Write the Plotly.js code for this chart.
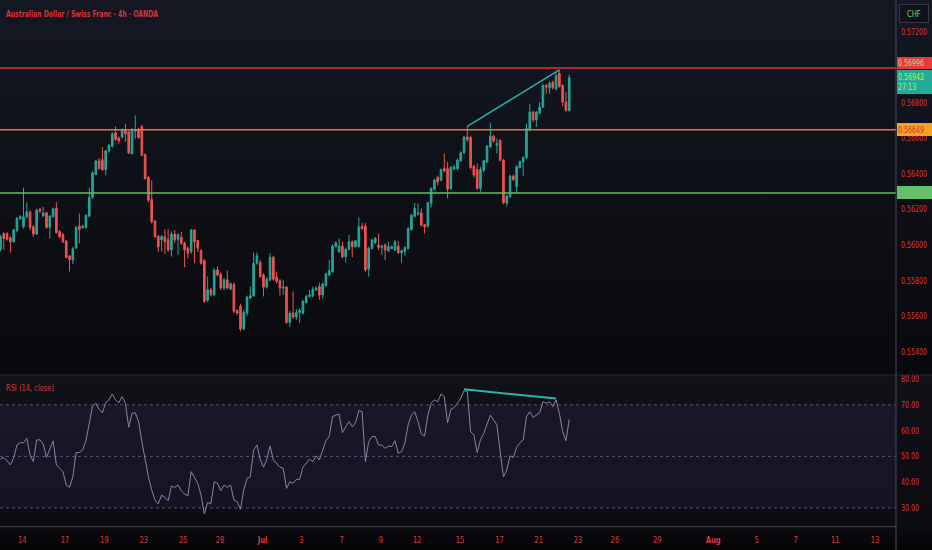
<!DOCTYPE html>
<html><head><meta charset="utf-8">
<script src="https://cdn.plot.ly/plotly-3.0.1.min.js"></script>
<style>
html,body{margin:0;padding:0;background:#050506;}
#chart{width:932px;height:550px;background:linear-gradient(to bottom,#141823 0px,#0f1118 180px,#08090c 375px,#111118 376px,#0b0b10 527px,#050506 550px);}
</style></head><body><div id="chart"></div>
<script>
// ---- data (AUD/CHF 4h) ----
const open = [0.55975,0.56065,0.56065,0.56040,0.56018,0.56080,0.56149,0.56103,0.56159,0.56185,
0.56103,0.56062,0.56200,0.56163,0.56181,0.56099,0.56159,0.56206,0.56075,0.56061,
0.56022,0.55938,0.55916,0.55983,0.56106,0.56099,0.56099,0.56163,0.56267,0.56398,
0.56473,0.56480,0.56424,0.56529,0.56555,0.56630,0.56602,0.56607,0.56649,0.56636,
0.56514,0.56640,0.56649,0.56667,0.56509,0.56380,0.56256,0.56135,0.56050,0.56029,
0.56047,0.56029,0.55972,0.56062,0.56032,0.56043,0.56010,0.55982,0.55963,0.56085,
0.56025,0.55969,0.55912,0.55689,0.55748,0.55720,0.55860,0.55836,0.55758,0.55804,
0.55753,0.55777,0.55631,0.55655,0.55528,0.55617,0.55702,0.55715,0.55898,0.55902,
0.55832,0.55763,0.55804,0.55931,0.55819,0.55800,0.55758,0.55763,0.55565,0.55617,
0.55595,0.55621,0.55617,0.55677,0.55711,0.55714,0.55747,0.55766,0.55719,0.55772,
0.55832,0.55850,0.55991,0.55962,0.55994,0.55934,0.55975,0.56019,0.55991,0.55991,
0.56106,0.56106,0.55864,0.55981,0.56013,0.56000,0.55987,0.56000,0.55968,0.55981,
0.55972,0.55994,0.55957,0.55962,0.55981,0.56088,0.56162,0.56174,0.56181,0.56114,
0.56106,0.56234,0.56314,0.56380,0.56365,0.56430,0.56430,0.56318,0.56428,0.56430,
0.56474,0.56519,0.56608,0.56604,0.56444,0.56425,0.56319,0.56421,0.56468,0.56552,
0.56612,0.56561,0.56589,0.56477,0.56235,0.56272,0.56388,0.56328,0.56436,0.56468,
0.56492,0.56649,0.56748,0.56705,0.56742,0.56776,0.56897,0.56884,0.56916,0.56879,
0.56966,0.56897,0.56804,0.56757];
const high = [0.56057,0.56072,0.56072,0.56050,0.56093,0.56159,0.56168,0.56323,0.56238,0.56196,
0.56112,0.56204,0.56210,0.56215,0.56187,0.56168,0.56211,0.56241,0.56084,0.56065,
0.56028,0.55944,0.55990,0.56106,0.56177,0.56115,0.56174,0.56323,0.56415,0.56480,
0.56490,0.56551,0.56535,0.56568,0.56635,0.56667,0.56610,0.56656,0.56682,0.56645,
0.56660,0.56729,0.56660,0.56675,0.56514,0.56388,0.56364,0.56140,0.56056,0.56057,
0.56089,0.56090,0.56075,0.56085,0.56066,0.56075,0.56020,0.55991,0.56090,0.56090,
0.56030,0.55975,0.55920,0.55823,0.55760,0.55870,0.55879,0.55845,0.55815,0.55856,
0.55790,0.55790,0.55640,0.55670,0.55636,0.55715,0.55767,0.55958,0.55958,0.55915,
0.55840,0.55820,0.55954,0.55940,0.55851,0.55810,0.55804,0.55770,0.55630,0.55739,
0.55640,0.55645,0.55692,0.55720,0.55748,0.55766,0.55770,0.55789,0.55790,0.55845,
0.55916,0.56005,0.56020,0.56037,0.56019,0.55985,0.56056,0.56025,0.56030,0.56155,
0.56125,0.56125,0.55990,0.56035,0.56045,0.56065,0.56000,0.56010,0.56019,0.55998,
0.56028,0.56024,0.55975,0.55994,0.56100,0.56175,0.56237,0.56234,0.56206,0.56120,
0.56245,0.56325,0.56373,0.56390,0.56430,0.56514,0.56467,0.56445,0.56450,0.56486,
0.56527,0.56615,0.56668,0.56615,0.56450,0.56459,0.56440,0.56480,0.56562,0.56688,
0.56620,0.56599,0.56595,0.56485,0.56285,0.56395,0.56395,0.56448,0.56475,0.56500,
0.56683,0.56795,0.56755,0.56755,0.56804,0.56907,0.56905,0.56918,0.56925,0.56972,
0.56985,0.56905,0.56860,0.56959];
const low = [0.55965,0.55972,0.56025,0.55957,0.56012,0.56074,0.56140,0.56093,0.56149,0.56084,
0.56046,0.56056,0.56180,0.56159,0.56092,0.56037,0.56155,0.56065,0.56039,0.56012,
0.55925,0.55851,0.55893,0.55979,0.56009,0.56090,0.56093,0.56155,0.56260,0.56392,
0.56425,0.56418,0.56392,0.56520,0.56548,0.56586,0.56570,0.56600,0.56580,0.56512,
0.56508,0.56598,0.56598,0.56500,0.56368,0.56240,0.56121,0.56040,0.55960,0.55963,
0.55950,0.55960,0.55935,0.56010,0.55944,0.56000,0.55875,0.55925,0.55950,0.55898,
0.55960,0.55890,0.55675,0.55680,0.55710,0.55711,0.55823,0.55748,0.55745,0.55750,
0.55745,0.55617,0.55605,0.55515,0.55520,0.55600,0.55695,0.55710,0.55890,0.55815,
0.55711,0.55755,0.55795,0.55800,0.55786,0.55715,0.55720,0.55555,0.55540,0.55585,
0.55580,0.55561,0.55610,0.55670,0.55705,0.55705,0.55740,0.55691,0.55700,0.55766,
0.55825,0.55845,0.55985,0.55955,0.55925,0.55901,0.55970,0.55931,0.55985,0.55985,
0.56085,0.55850,0.55822,0.55975,0.56005,0.55972,0.55944,0.55916,0.55960,0.55975,
0.55965,0.55950,0.55901,0.55940,0.55975,0.56080,0.56155,0.56165,0.56105,0.56065,
0.56097,0.56211,0.56308,0.56336,0.56358,0.56408,0.56262,0.56310,0.56420,0.56420,
0.56468,0.56510,0.56580,0.56425,0.56380,0.56310,0.56300,0.56410,0.56460,0.56545,
0.56575,0.56515,0.56470,0.56230,0.56216,0.56265,0.56360,0.56291,0.56430,0.56388,
0.56485,0.56640,0.56692,0.56664,0.56735,0.56770,0.56851,0.56851,0.56875,0.56870,
0.56885,0.56780,0.56750,0.56750];
const close = [0.56046,0.56037,0.56033,0.56018,0.56084,0.56149,0.56159,0.56159,0.56187,0.56099,
0.56062,0.56196,0.56190,0.56181,0.56099,0.56163,0.56204,0.56069,0.56046,0.56018,
0.55930,0.55919,0.55979,0.56099,0.56088,0.56106,0.56166,0.56267,0.56406,0.56473,
0.56430,0.56424,0.56529,0.56561,0.56626,0.56593,0.56585,0.56649,0.56626,0.56518,
0.56649,0.56645,0.56604,0.56505,0.56374,0.56252,0.56131,0.56046,0.55990,0.56047,
0.56019,0.55972,0.56062,0.56029,0.56057,0.56010,0.55972,0.55954,0.56085,0.56019,
0.55982,0.55898,0.55683,0.55748,0.55720,0.55860,0.55832,0.55758,0.55804,0.55758,
0.55782,0.55627,0.55617,0.55528,0.55621,0.55707,0.55715,0.55898,0.55939,0.55823,
0.55763,0.55808,0.55931,0.55808,0.55795,0.55758,0.55763,0.55565,0.55617,0.55595,
0.55621,0.55632,0.55683,0.55711,0.55720,0.55751,0.55757,0.55719,0.55781,0.55837,
0.55856,0.55994,0.56013,0.55994,0.55934,0.55975,0.56019,0.55991,0.56024,0.56103,
0.56093,0.55860,0.55981,0.56028,0.56037,0.55987,0.55994,0.55972,0.55991,0.55991,
0.56017,0.55957,0.55968,0.55985,0.56093,0.56168,0.56206,0.56181,0.56112,0.56103,
0.56237,0.56318,0.56365,0.56355,0.56424,0.56417,0.56314,0.56436,0.56439,0.56477,
0.56519,0.56608,0.56593,0.56436,0.56393,0.56319,0.56425,0.56474,0.56556,0.56612,
0.56585,0.56571,0.56477,0.56238,0.56276,0.56388,0.56369,0.56440,0.56468,0.56492,
0.56655,0.56748,0.56705,0.56748,0.56776,0.56897,0.56888,0.56910,0.56884,0.56953,
0.56892,0.56804,0.56757,0.56942];
const rsi = [48.9,49.6,48.3,46.7,49.3,54.4,55.3,55.3,57.0,50.5,
48.0,56.4,56.4,54.8,49.6,53.1,56.0,46.7,45.4,44.1,
38.9,38.0,42.1,51.5,51.5,52.5,56.1,63.5,69.5,70.6,
68.2,66.9,70.8,71.9,74.2,71.9,70.8,73.2,70.6,61.3,
66.7,66.9,63.5,55.7,48.9,42.1,37.0,33.1,31.6,35.0,
34.1,32.8,38.5,38.0,38.9,36.7,35.4,34.7,44.1,42.1,
39.6,35.0,27.7,32.1,31.6,40.2,39.6,36.7,38.9,38.0,
38.9,33.1,32.5,29.5,37.0,41.5,42.1,52.5,54.4,48.9,
45.8,48.9,54.0,48.6,47.1,45.8,45.4,37.6,40.2,39.6,
41.1,41.1,45.8,47.3,48.9,48.0,50.2,48.6,52.5,56.1,
57.7,65.4,66.0,66.4,59.2,61.5,63.5,61.5,63.1,67.7,
67.3,48.0,55.7,57.7,57.7,54.4,54.4,53.1,54.0,53.8,
56.1,51.2,51.8,55.1,62.2,66.0,67.3,63.5,58.7,57.9,
66.0,70.6,71.9,71.2,74.2,73.2,63.1,68.2,69.0,70.6,
72.5,75.5,75.1,59.6,58.3,51.5,56.4,58.9,62.8,66.0,
64.1,62.2,51.8,42.1,44.7,50.2,49.6,53.5,55.3,56.4,
65.4,67.3,65.1,66.0,66.9,71.2,70.6,71.2,69.3,71.9,
66.7,59.6,56.1,64.4];

// time axis: bar position of each date label
const tickIdx = [6.6,19.6,31.6,43.6,55.6,66.8,79.7,91.5,103.8,115.7,126.8,139.8,151.8,163.7,175.7,186.9,199.8,216.8,230.0,241.9,253.9,266.0];
const tickLabels = ['14','17','19','23','25','28','<b>Jul</b>','3','7','9','12','15','17','21','23','26','29','<b>Aug</b>','5','7','11','13'];
const priceTicks = [0.554,0.556,0.558,0.560,0.562,0.564,0.566,0.568,0.572];
const rsiTicks = [30,40,50,60,70,80];
const rsiLevels = [70,50,30];
const levels = [0.56996, 0.56649, 0.56293];      // red, orange, green horizontal lines
const priceTrendBars = [142, 170];               // price trendline joins these highs
const rsiTrendBars = [141, 169];                 // RSI trendline joins these values
const countdown = '27:13';

// ---- drawing ----
const W = 932, H = 550;
const FONT = '"DejaVu Sans Condensed","DejaVu Sans",sans-serif';
const FS = 8.4;
const RED_TXT = '#d8373e';
const bars = open.map((_, i) => i);
const xR = 896 / W;
const mainBot = (H - 375) / H, rsiBot = (H - 526.7) / H;

const traces = [
  {type:'candlestick', x:bars, open:open, high:high, low:low, close:close, xaxis:'x', yaxis:'y',
   increasing:{line:{color:'#26a69a', width:1}, fillcolor:'#26a69a'},
   decreasing:{line:{color:'#ef5350', width:1}, fillcolor:'#ef5350'},
   whiskerwidth:0, hoverinfo:'skip'},
  {type:'scatter', mode:'lines', x:priceTrendBars, y:priceTrendBars.map(i => high[i]),
   xaxis:'x', yaxis:'y', line:{color:'#2bb5a8', width:1.5}, hoverinfo:'skip'},
  {type:'scatter', mode:'lines', x:bars, y:rsi, xaxis:'x', yaxis:'y2',
   line:{color:'#8a82a6', width:1}, hoverinfo:'skip'},
  {type:'scatter', mode:'lines', x:rsiTrendBars, y:rsiTrendBars.map(i => rsi[i] + 0.5),
   xaxis:'x', yaxis:'y2', line:{color:'#2bb5a8', width:2}, hoverinfo:'skip'}
];

const levelColors = ['#d8363c', '#e8733a', '#5cbf62'];
const shapes = [
  {type:'rect', xref:'x domain', x0:0, x1:1, yref:'y2', y0:30, y1:70,
   fillcolor:'rgba(118,92,200,0.10)', line:{width:0}, layer:'below'}
];
rsiLevels.forEach(v => shapes.push({type:'line', xref:'x domain', x0:0, x1:1, yref:'y2', y0:v, y1:v,
  line:{color:'#5a5370', width:1, dash:'3px,3px'}, layer:'below'}));
levels.forEach((v, i) => shapes.push({type:'line', xref:'x domain', x0:0, x1:1, yref:'y', y0:v, y1:v,
  line:{color:levelColors[i], width:1.5}}));
shapes.push({type:'line', xref:'paper', yref:'paper', x0:0, x1:1, y0:mainBot, y1:mainBot, line:{color:'#262733', width:1}});
shapes.push({type:'line', xref:'paper', yref:'paper', x0:0, x1:xR, y0:rsiBot, y1:rsiBot, line:{color:'#4b4b57', width:1}});
shapes.push({type:'line', xref:'paper', yref:'paper', x0:xR, x1:xR, y0:0, y1:1, line:{color:'#4a4560', width:1}});

const lx = 897 / W;
const tag = (y, text, bg, color, h, shift) => ({
  xref:'paper', yref:'y', x:lx, y:y, xanchor:'left', yanchor:'middle', yshift:shift,
  text:text, showarrow:false, bgcolor:bg, borderpad:1, borderwidth:0, width:33, height:h,
  align:'left', font:{family:FONT, size:FS, color:color}
});
const annotations = [
  {xref:'paper', yref:'paper', x:4 / W, y:(H - 13) / H, xanchor:'left', yanchor:'middle', showarrow:false, align:'left',
   text:'<b>Australian Dollar / Swiss Franc · 4h · OANDA</b>', font:{family:FONT, size:9.5, color:'#dc3038'}},
  {xref:'paper', yref:'paper', x:4 / W, y:(H - 388) / H, xanchor:'left', yanchor:'middle', showarrow:false, align:'left',
   text:'RSI (14, close)', font:{family:FONT, size:9, color:RED_TXT}},
  {xref:'paper', yref:'paper', x:899 / W, y:1 - 4 / H, xanchor:'left', yanchor:'top', showarrow:false,
   text:'CHF', bgcolor:'#10131b', bordercolor:'#353945', borderwidth:1, borderpad:2, width:24, height:13,
   font:{family:FONT, size:9, color:'#6fd37a'}},
  tag(levels[0], levels[0].toFixed(5), '#e53b3f', '#a8e07e', 10, 4.5),
  tag(close[close.length - 1], close[close.length - 1].toFixed(5) + '<br>' + countdown, '#22ab98', '#c9e35e', 22, -4.4),
  tag(levels[1], levels[1].toFixed(5), '#f4a224', '#d0322c', 11, 0),
  tag(levels[2], '\u00a0', '#62c06a', '#62c06a', 11, 0)
];

const layout = {
  width:W, height:H, margin:{l:0, r:0, t:0, b:0},
  paper_bgcolor:'rgba(0,0,0,0)', plot_bgcolor:'rgba(0,0,0,0)',
  showlegend:false, hovermode:false, dragmode:false,
  font:{family:FONT, size:FS, color:RED_TXT},
  xaxis:{domain:[0, xR], range:[-0.15, 272.4], anchor:'y2', tickmode:'array', tickvals:tickIdx, ticktext:tickLabels,
    showgrid:false, zeroline:false, showline:false, ticks:'', ticklabelstandoff:6,
    rangeslider:{visible:false}, tickfont:{family:FONT, size:9, color:'#dc3840'}, fixedrange:true},
  yaxis:{domain:[mainBot, 1], range:[0.552689, 0.573783], side:'right', anchor:'x', tickmode:'array',
    tickvals:priceTicks, tickformat:'.5f', showgrid:false, zeroline:false, showline:false, ticks:'',
    ticklabelstandoff:4, tickfont:{family:FONT, size:FS, color:RED_TXT}, fixedrange:true},
  yaxis2:{domain:[rsiBot, mainBot], range:[22.75, 81.55], side:'right', anchor:'x', tickmode:'array',
    tickvals:rsiTicks, tickformat:'.2f', showgrid:false, zeroline:false, showline:false, ticks:'',
    ticklabelstandoff:4, tickfont:{family:FONT, size:FS, color:RED_TXT}, fixedrange:true},
  shapes:shapes, annotations:annotations
};

// the reference uses a narrow UI face: squeeze texts horizontally ("0.57200" ~26px, title ~152px, RSI label ~48px)
function squeeze(el, k) {
  const L = el.getComputedTextLength();
  if (L > 0 && k < 1) { el.setAttribute('textLength', (L * k).toFixed(2)); el.setAttribute('lengthAdjust', 'spacingAndGlyphs'); }
}
function narrowTexts(gd) {
  const ref = Array.from(gd.querySelectorAll('.ytick text')).find(t => t.textContent === '0.57200');
  const k = ref && ref.getComputedTextLength() > 0 ? Math.min(1, 26 / ref.getComputedTextLength()) : 0.84;
  const targets = {0:152, 1:48};
  gd.querySelectorAll('text').forEach(t => {
    const ann = t.closest('.annotation');
    const idx = ann ? ann.getAttribute('data-index') : null;
    if (idx !== null && targets[idx]) {
      const L = t.getComputedTextLength();
      if (L > 0) squeeze(t, targets[idx] / L);
      return;
    }
    const lines = t.querySelectorAll('tspan.line');
    (lines.length ? Array.from(lines) : [t]).forEach(el => squeeze(el, k));
  });
}
Plotly.newPlot('chart', traces, layout, {staticPlot:true, displayModeBar:false}).then(narrowTexts);
</script></body></html>
